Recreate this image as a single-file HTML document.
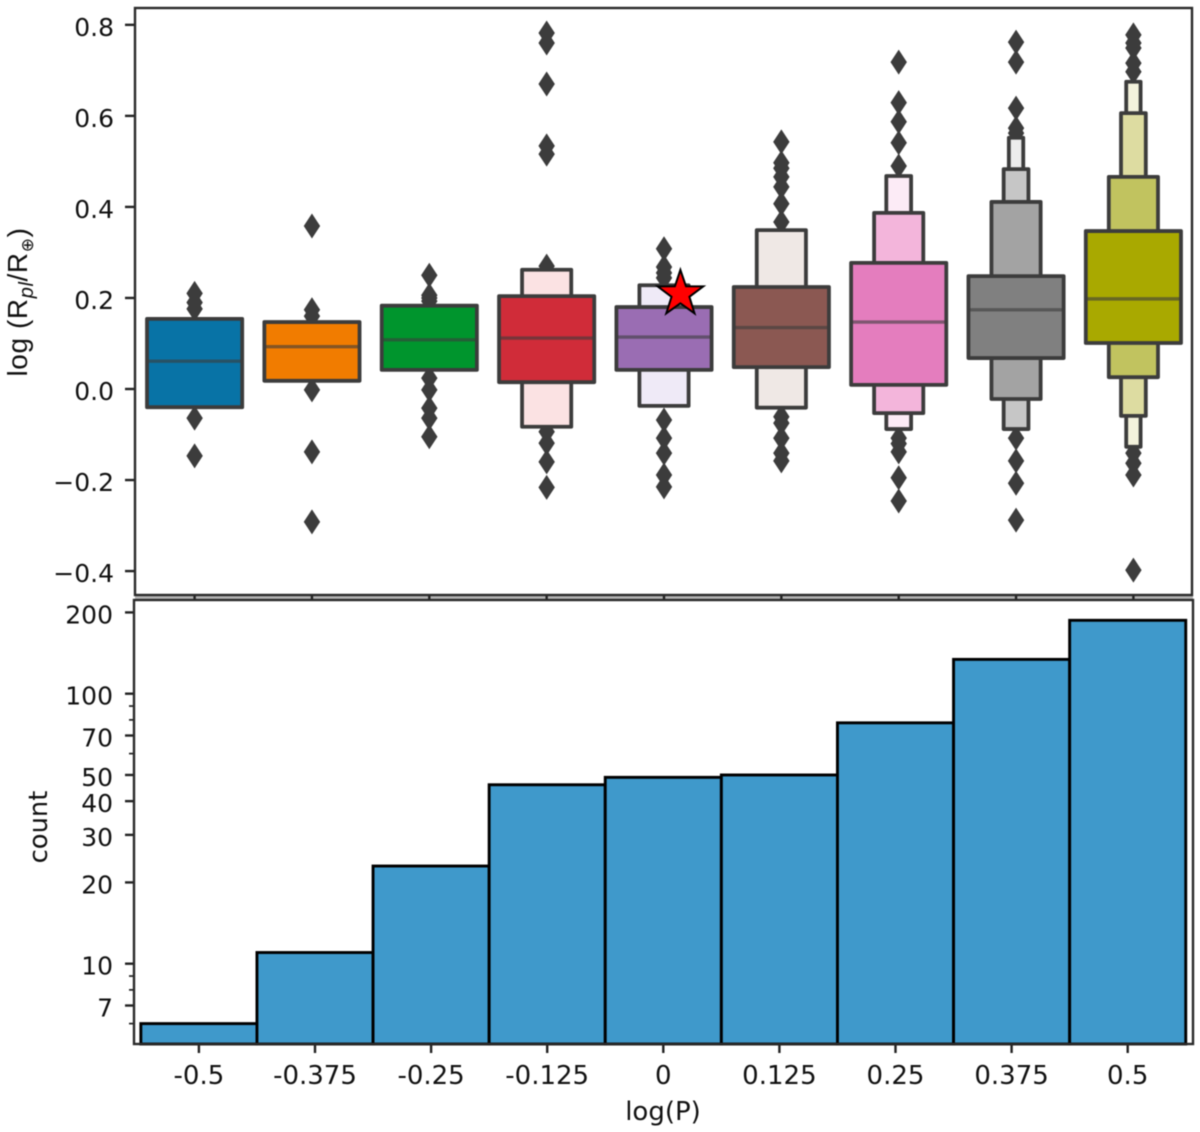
<!DOCTYPE html>
<html lang="en">
<head>
<meta charset="utf-8">
<title>Planet radius versus period</title>
<style>
  html,body{margin:0;padding:0;background:#fff;}
  body{width:1200px;height:1132px;overflow:hidden;}
  svg{display:block;filter:blur(.45px);}
  text{font-family:"DejaVu Sans","Liberation Sans",sans-serif;fill:#111;}
</style>
</head>
<body>
<svg id="chart" xmlns="http://www.w3.org/2000/svg" width="1200" height="1132" viewBox="0 0 1200 1132">
  <rect x="0" y="0" width="1200" height="1132" fill="#fff"/>
  <rect x="135" y="595" width="1058" height="5" fill="#b5b5b5"/>
  <g id="boxen-layer"></g>
  <g id="hist-layer"></g>
  <g id="axis-layer"></g>
  <rect x="135" y="8" width="1057" height="587" fill="none" stroke="#2a2a2a" stroke-width="2.4"/>
  <rect x="134" y="600" width="1059" height="444" fill="none" stroke="#2a2a2a" stroke-width="2.4"/>
  <text transform="translate(27,302) rotate(-90)" text-anchor="middle" font-size="28" letter-spacing="0.6" style="font-family:'Liberation Sans',sans-serif">log (R<tspan font-size="20" font-style="italic" dy="6">pl</tspan><tspan dy="-6">/R</tspan><tspan font-size="17" dy="6" style="font-family:'DejaVu Sans',sans-serif">⊕</tspan><tspan dy="-6">)</tspan></text>
  <text transform="translate(47,827) rotate(-90)" text-anchor="middle" font-size="25.8">count</text>
  <text x="663" y="1120" text-anchor="middle" font-size="26">log(P)</text>
</svg>
<script>
// ---- Data: top panel (letter-value plot) ----
const categories = ["-0.5","-0.375","-0.25","-0.125","0","0.125","0.25","0.375","0.5"];
const medians    = [0.061,0.093,0.108,0.112,0.114,0.135,0.147,0.174,0.198];
const level1Low  = [-0.040,0.018,0.042,0.015,0.042,0.048,0.009,0.068,0.101];
const level1High = [0.154,0.147,0.183,0.204,0.180,0.224,0.277,0.248,0.347];
const level2Low  = [null,null,null,-0.083,-0.037,-0.041,-0.053,-0.022,0.026];
const level2High = [null,null,null,0.262,0.228,0.349,0.387,0.411,0.466];
const level3Low  = [null,null,null,null,null,null,-0.088,-0.088,-0.059];
const level3High = [null,null,null,null,null,null,0.468,0.483,0.606];
const level4Low  = [null,null,null,null,null,null,null,-0.088,-0.127];
const level4High = [null,null,null,null,null,null,null,0.552,0.675];
const outliers = [
  [0.21,0.19,0.176,-0.064,-0.147],
  [0.358,0.174,0.16,-0.002,-0.138,-0.292],
  [0.25,0.206,0.2,0.193,0.024,-0.002,-0.042,-0.064,-0.105],
  [0.782,0.76,0.67,0.534,0.516,0.27,-0.094,-0.119,-0.16,-0.216],
  [0.308,0.268,0.255,0.244,-0.068,-0.108,-0.141,-0.189,-0.215],
  [0.543,0.497,0.485,0.466,0.444,0.407,0.367,-0.061,-0.075,-0.108,-0.141,-0.158],
  [0.718,0.629,0.587,0.541,0.49,-0.108,-0.12,-0.138,-0.195,-0.246],
  [0.762,0.718,0.617,0.573,0.562,-0.108,-0.158,-0.207,-0.288],
  [0.778,0.76,0.749,0.716,0.697,-0.141,-0.163,-0.189,-0.398]
];
const starCategory = 4.14;
const starValue = 0.209;
const radiusTicks = [0.8,0.6,0.4,0.2,0,-0.2,-0.4];
const radiusTickLabels = ["0.8","0.6","0.4","0.2","0.0","\u22120.2","\u22120.4"];

// ---- Data: bottom panel (log histogram) ----
const counts = [6,11,23,46,49,50,78,134,187];
const countTicks = [200,100,70,50,40,30,20,10,7];
const countMinorTicks = [90,80,60,9,8,6];

// ---- Styles ----
const level1Colors = ["#0873a6","#f17c00","#00952d","#d02c39","#9a6db3","#8b5852","#e47dbe","#808080","#a9a900"];
const level2Colors = [null,null,null,"#fbe2e3","#efeaf7","#efe8e5","#f3b5db","#a3a3a3","#c1c35f"];
const level3Colors = [null,null,null,null,null,null,"#fcebf6","#c6c6c6","#dddca1"];
const level4Colors = [null,null,null,null,null,null,null,"#ececec","#f3f2dc"];
const INK = "#3c3c3c";
const NS = "http://www.w3.org/2000/svg";

// ---- Axis functions ----
function xTop(i){ return 194.6 + 117.35 * i; }
function yTop(v){ return 389 - 455.2 * v; }
function xBottom(i){ return 198.9 + 116.1 * i; }
function yCount(c){ return 963.7 - 270 * Math.log10(c / 10); }

function make(tag, attrs, parent){
  const el = document.createElementNS(NS, tag);
  for (const k in attrs) el.setAttribute(k, attrs[k]);
  parent.appendChild(el);
  return el;
}

const boxLayer = document.getElementById('boxen-layer');
const histLayer = document.getElementById('hist-layer');
const axisLayer = document.getElementById('axis-layer');

// Outlier diamonds (beneath the boxes)
outliers.forEach(function(list, i){
  list.forEach(function(v){
    const cx = xTop(i), cy = yTop(v);
    const d = make('polygon', {points:[cx,cy-12.5,cx+8.2,cy,cx,cy+12.5,cx-8.2,cy].join(','), fill:INK}, boxLayer);
    
    
  });
});

// Letter-value boxes, widest level drawn last so it sits on top
const levelSets = [
  {low:level4Low, high:level4High, colors:level4Colors, half:7.2},
  {low:level3Low, high:level3High, colors:level3Colors, half:12.4},
  {low:level2Low, high:level2High, colors:level2Colors, half:24.6},
  {low:level1Low, high:level1High, colors:level1Colors, half:47.6}
];
categories.forEach(function(cat, i){
  levelSets.forEach(function(set){
    if (set.low[i] === null) return;
    const top = yTop(set.high[i]), bot = yTop(set.low[i]);
    const r = make('rect', {x:xTop(i)-set.half, y:top, width:set.half*2, height:bot-top, fill:set.colors[i], stroke:INK, 'stroke-width':3.8, 'stroke-linejoin':'round'}, boxLayer);
    
    
  });
  const m = make('line', {x1:xTop(i)-46, x2:xTop(i)+46, y1:yTop(medians[i]), y2:yTop(medians[i]), stroke:INK, 'stroke-opacity':0.6, 'stroke-width':3.4}, boxLayer);
  
  
});

// Star marker
(function(){
  const cx = xTop(starCategory), cy = yTop(starValue), R = 24, r = 9.4;
  const pts = [];
  for (let k = 0; k < 10; k++){
    const a = -Math.PI/2 + k*Math.PI/5, rad = k % 2 ? r : R;
    pts.push((cx + rad*Math.cos(a)).toFixed(1) + ',' + (cy + rad*Math.sin(a)).toFixed(1));
  }
  const s = make('polygon', {points:pts.join(' '), fill:'#ff0000', stroke:'#000', 'stroke-width':2, 'stroke-linejoin':'miter'}, boxLayer);
  
  
})();

// Histogram bars
counts.forEach(function(c, i){
  const top = yCount(c);
  const b = make('rect', {x:xBottom(i)-58.05, y:top, width:116.1, height:1044-top, fill:'#3f99cb', stroke:'#000', 'stroke-width':2.9}, histLayer);
  
  
});

// Top panel y ticks
radiusTicks.forEach(function(v, i){
  const y = yTop(v);
  const t = make('line', {x1:125, x2:135, y1:y, y2:y, stroke:'#222', 'stroke-width':2.4}, axisLayer);
  
  
  const l = make('text', {x:114, y:y+11, 'text-anchor':'end', 'font-size':25}, axisLayer);
  l.textContent = radiusTickLabels[i];
  
  
});

// Top panel x ticks (tiny, inside the band between the panels)
categories.forEach(function(cat, i){
  const t = make('line', {x1:xTop(i), x2:xTop(i), y1:595, y2:600, stroke:'#222', 'stroke-width':2.4}, axisLayer);
  
  
});

// Bottom panel y ticks
countTicks.forEach(function(c){
  const y = yCount(c);
  const t = make('line', {x1:125, x2:134, y1:y, y2:y, stroke:'#222', 'stroke-width':2.4}, axisLayer);
  
  
  const l = make('text', {x:113, y:y+11, 'text-anchor':'end', 'font-size':25}, axisLayer);
  l.textContent = String(c);
  
  
});
countMinorTicks.forEach(function(c){
  const y = yCount(c);
  const t = make('line', {x1:129, x2:134, y1:y, y2:y, stroke:'#222', 'stroke-width':1.7}, axisLayer);
  
  
});

// Bottom panel x ticks
categories.forEach(function(cat, i){
  const x = xBottom(i);
  const t = make('line', {x1:x, x2:x, y1:1044, y2:1053, stroke:'#222', 'stroke-width':2.4}, axisLayer);
  
  
  const l = make('text', {x:x, y:1084, 'text-anchor':'middle', 'font-size':26}, axisLayer);
  l.textContent = cat;
  
  
});
</script>
</body>
</html>
